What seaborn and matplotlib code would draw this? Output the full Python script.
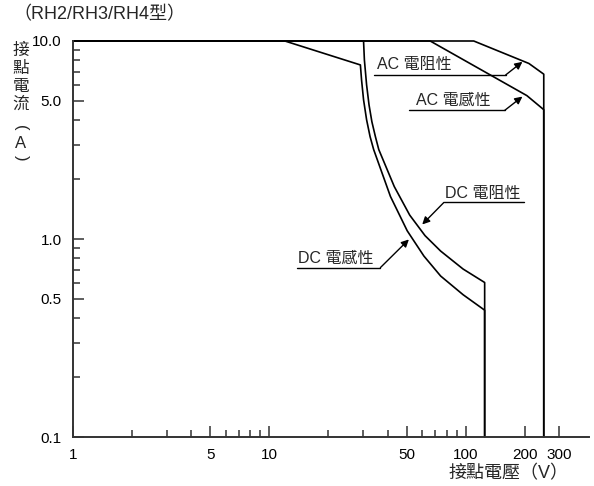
import matplotlib
matplotlib.use("Agg")
import matplotlib.pyplot as plt
import seaborn as sns
import pandas as pd
from matplotlib.ticker import FixedLocator, FixedFormatter, NullFormatter

# 接點電壓 (V) vs 接點電流 (A)
ac_res_v = [1, 110, 210, 250, 250]
ac_res_a = [10, 10, 7.7, 6.8, 0.1]
ac_ind_v = [1, 66, 205, 250, 250]
ac_ind_a = [10, 10, 5.3, 4.5, 0.1]
dc_res_v = [1, 30.2, 30.5, 31.3, 32.2, 33.3, 34.7, 36.1, 43.3, 51.9, 62.1, 74.6, 97.1, 125, 125]
dc_res_a = [10, 10, 8.02, 6.00, 4.76, 3.91, 3.29, 2.83, 1.84, 1.32, 1.04, 0.869, 0.705, 0.603, 0.1]
dc_ind_v = [1, 12, 29.1, 29.5, 30.2, 31.3, 32.6, 34.0, 41.4, 50.4, 61.3, 74.6, 97.1, 125, 125]
dc_ind_a = [10, 10, 7.57, 6.36, 5.05, 4.00, 3.29, 2.83, 1.64, 1.10, 0.82, 0.65, 0.523, 0.437, 0.1]

x_major = [1, 5, 10, 50, 100, 200, 300]
x_minor = [2, 3, 4, 6, 7, 8, 9, 20, 30, 40, 60, 70, 80, 90]
y_major = [0.1, 0.5, 1, 5, 10]
y_labels = ["0.1", "0.5", "1.0", "5.0", "10.0"]
y_minor = [0.2, 0.3, 0.4, 0.6, 0.7, 0.8, 0.9, 2, 3, 4, 6, 7, 8, 9]

sns.set_style("ticks")
plt.rcParams['font.family'] = ['Liberation Sans', 'Noto Sans CJK TC', 'DejaVu Sans']

W, H = 594, 486
fig = plt.figure(figsize=(W / 100, H / 100), dpi=100)
ax = fig.add_axes([73 / W, 49 / H, 516 / W, 396 / H])

series = [(ac_res_v, ac_res_a), (ac_ind_v, ac_ind_a),
          (dc_res_v, dc_res_a), (dc_ind_v, dc_ind_a)]
for v, a in series:
    df = pd.DataFrame({"v": v, "a": a})
    sns.lineplot(data=df, x="v", y="a", estimator=None, sort=False,
                 color="black", lw=1.2, ax=ax, clip_on=False)

ax.set_xscale("log")
ax.set_yscale("log")
ax.set_xlim(1, 425)
ax.set_ylim(0.1, 10)

ax.xaxis.set_major_locator(FixedLocator(x_major))
ax.xaxis.set_major_formatter(FixedFormatter([str(v) for v in x_major]))
ax.xaxis.set_minor_locator(FixedLocator(x_minor))
ax.xaxis.set_minor_formatter(NullFormatter())
ax.yaxis.set_major_locator(FixedLocator(y_major))
ax.yaxis.set_major_formatter(FixedFormatter(y_labels))
ax.yaxis.set_minor_locator(FixedLocator(y_minor))
ax.yaxis.set_minor_formatter(NullFormatter())

ax.tick_params(which="major", direction="in", length=8, width=1.1,
               color="#333333", labelsize=11, pad=8, labelcolor="black")
ax.tick_params(which="minor", direction="in", length=5, width=1.1,
               color="#333333")
sns.despine(ax=ax)
for s in ["left", "bottom"]:
    ax.spines[s].set_linewidth(1.4)
    ax.spines[s].set_color("#333333")
ax.set_xlabel("")
ax.set_ylabel("")

# callouts: label, text centre, underline span, leader start, arrow tip
callouts = [
    ("AC 電阻性", (54.9, 7.57), (34.3, 160, 6.74), (160, 6.74), (194.6, 7.85)),
    ("AC 電感性", (86.3, 5.02), (51.2, 158, 4.46), (158, 4.46), (194.6, 5.24)),
    ("DC 電阻性", (122.8, 1.70), (77.5, 198.4, 1.53), (77.5, 1.53), (60.1, 1.184)),
    ("DC 電感性", (21.8, 0.80), (13.85, 36.8, 0.717), (36.8, 0.717), (51.4, 0.995)),
]
for label, tpos, uline, start, tip in callouts:
    ax.text(tpos[0], tpos[1], label, ha="center", va="center", fontsize=11.5)
    ax.plot([uline[0], uline[1]], [uline[2], uline[2]], color="black", lw=1.0)
    ax.annotate("", xy=tip, xytext=start,
                arrowprops=dict(arrowstyle="-|>", color="black", lw=1.0,
                                mutation_scale=11, shrinkA=0, shrinkB=0))

fig.text(13 / W, 1 - 15 / H, "（RH2/RH3/RH4型）", ha="left", va="center", fontsize=13)
fig.text(508 / W, 1 - 474 / H, "接點電壓（V）", ha="center", va="center", fontsize=13)

# vertical y label, one character per row
ylab_chars = ["接", "點", "電", "流", "(", "A", ")"]
ylab_y = [50.5, 68, 86, 104, 128, 144, 158]
for ch, yy in zip(ylab_chars, ylab_y):
    rot = -90 if ch in "()" else 0
    fig.text(21 / W, 1 - yy / H, ch, ha="center", va="center", fontsize=12,
             rotation=rot, rotation_mode="anchor")

fig.savefig("out.png", dpi=100)
